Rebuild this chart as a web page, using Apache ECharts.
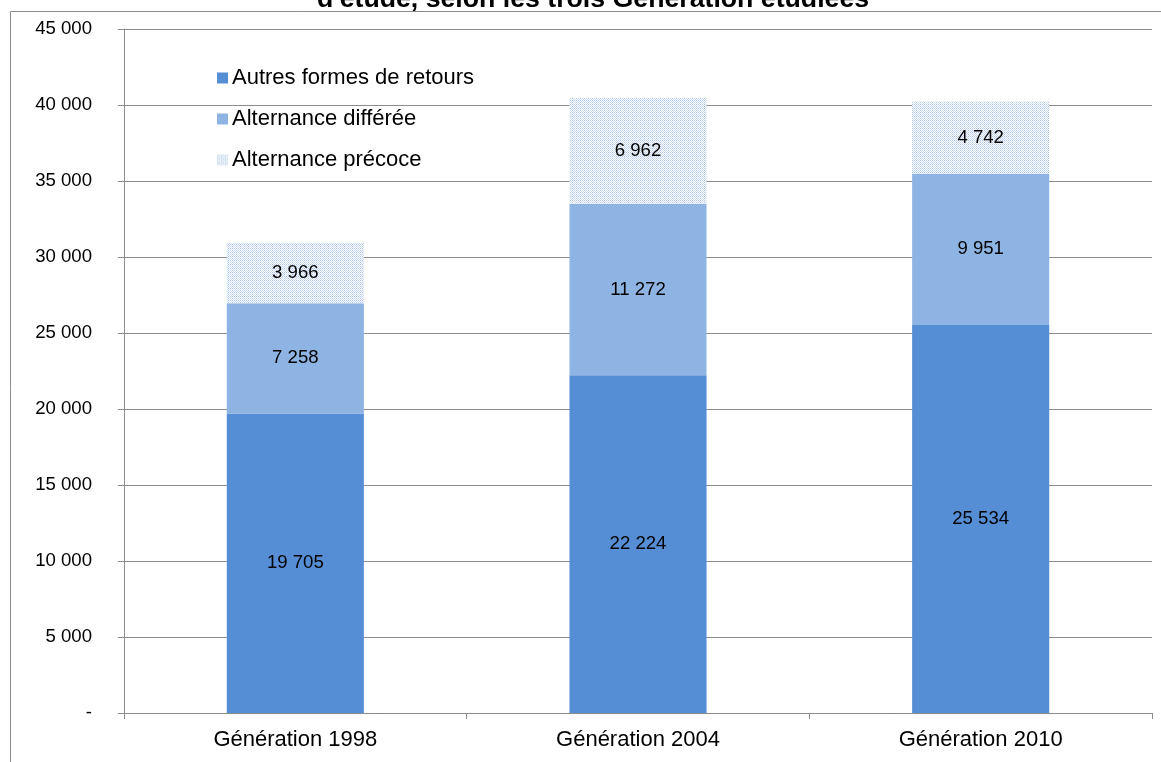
<!DOCTYPE html>
<html>
<head>
<meta charset="utf-8">
<script src="https://cdn.jsdelivr.net/npm/echarts@6/dist/echarts.min.js"></script>
<style>
html,body{margin:0;padding:0;background:#fff;}
#chart{width:1161px;height:762px;}
</style>
</head>
<body>
<div id="chart"></div>
<script>
const titleText = "d'étude, selon les trois Génération étudiées";
const categories = ["Génération 1998", "Génération 2004", "Génération 2010"];
const seriesNames = ["Autres formes de retours", "Alternance différée", "Alternance précoce"];
const autres = [19705, 22224, 25534];
const differee = [7258, 11272, 9951];
const precoce = [3966, 6962, 4742];
const yTicks = [0, 5000, 10000, 15000, 20000, 25000, 30000, 35000, 40000, 45000];

function fmt(v){
  if (v === 0) return '-';
  return String(v).replace(/\B(?=(\d{3})+(?!\d))/g, ' ');
}

// dotted texture for "Alternance précoce"
const tile = document.createElement('canvas');
tile.width = 8; tile.height = 8;
const tc = tile.getContext('2d');
tc.fillStyle = '#ffffff';
tc.fillRect(0,0,8,8);
for (let y = 0; y < 8; y++) {
  for (let x = 0; x < 8; x++) {
    if ((x + y) % 2 === 0) {
      const onLine = (x % 4 === 0 || y % 4 === 0);
      tc.fillStyle = onLine ? '#aac3e7' : '#cfddf1';
      tc.fillRect(x, y, 1, 1);
    }
  }
}
const patternColor = { image: tile, repeat: 'repeat' };

const colors = ['#558ed5', '#8eb4e3', patternColor];
const dataSets = [autres, differee, precoce];
const FONT = 'Liberation Sans, Arial, sans-serif';

const chart = echarts.init(document.getElementById('chart'), null, {renderer: 'canvas'});
const labelStyle = {
  show: true, position: 'inside', color: '#000',
  fontFamily: FONT, fontSize: 18.6,
  formatter: p => fmt(p.value)
};

chart.setOption({
  animation: false,
  backgroundColor: '#fff',
  title: {
    text: titleText, left: 312, top: -19,
    textStyle: {fontFamily: FONT, fontWeight: 'bold', fontSize: 26.7, color: '#000'}
  },
  graphic: [{
    type: 'rect', silent: true, z: -1,
    shape: {x: 10.5, y: 11.5, width: 1300, height: 900},
    style: {fill: 'none', stroke: '#8c8c8c', lineWidth: 1}
  }],
  legend: {
    orient: 'vertical', left: 212, top: 62,
    icon: 'rect',
    itemWidth: 11, itemHeight: 11, itemGap: 19,
    data: seriesNames,
    textStyle: {fontFamily: FONT, fontSize: 22, color: '#000', padding: [0,0,0,-1]}
  },
  grid: {left: 124, right: 9, top: 29, bottom: 49, containLabel: false},
  xAxis: {
    type: 'category', data: categories,
    axisLine: {lineStyle: {color: '#8c8c8c', width: 1}},
    axisTick: {show: true, length: 6, inside: false, lineStyle: {color: '#8c8c8c'}},
    axisLabel: {color: '#000', fontFamily: FONT, fontSize: 22, margin: 16}
  },
  yAxis: {
    type: 'value', min: yTicks[0], max: yTicks[yTicks.length - 1], interval: yTicks[1] - yTicks[0],
    axisLine: {show: true, lineStyle: {color: '#8c8c8c', width: 1}},
    axisTick: {show: true, length: 6, lineStyle: {color: '#8c8c8c'}},
    splitLine: {show: true, lineStyle: {color: '#8c8c8c', width: 1}},
    axisLabel: {color: '#000', fontFamily: FONT, fontSize: 18.6, margin: 32, formatter: fmt}
  },
  series: seriesNames.map((name, i) => ({
    name: name, type: 'bar', stack: 'total', barWidth: '40%',
    data: dataSets[i],
    itemStyle: {color: colors[i]},
    label: labelStyle,
    emphasis: {disabled: true}
  }))
});
</script>
</body>
</html>
